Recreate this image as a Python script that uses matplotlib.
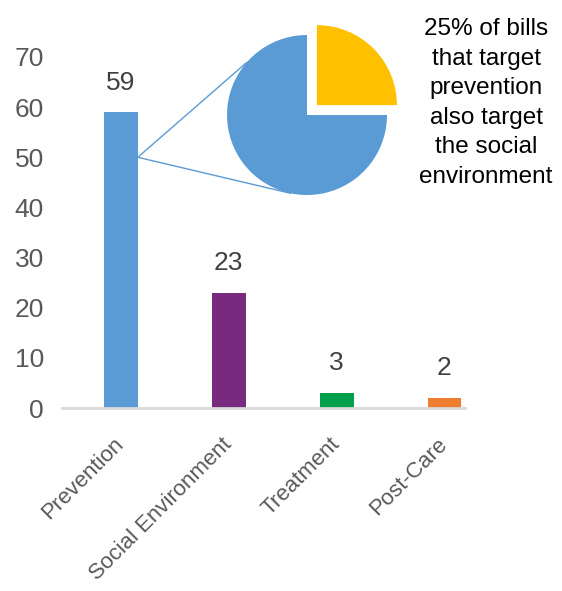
import matplotlib
matplotlib.use('Agg')
import matplotlib.pyplot as plt
import numpy as np
from matplotlib.patches import ConnectionPatch

categories = ['Prevention', 'Social Environment', 'Treatment', 'Post-Care']
counts = [59, 23, 3, 2]
bar_colors = ['#5B9BD5', '#782A7F', '#00A04B', '#ED7D31']
pie_values = [25, 75]
pie_colors = ['#FFC000', '#5B9BD5']
note = '25% of bills\nthat target\nprevention\nalso target\nthe social\nenvironment'

plt.rcParams['font.family'] = ['Liberation Sans', 'DejaVu Sans']

W, H = 562, 591
fig = plt.figure(figsize=(W / 100, H / 100), dpi=100)
ax = fig.add_axes([62 / W, 1 - 408 / H, (465 - 62) / W, (408 - 57) / H])

x = np.arange(len(categories))
bw = 0.315
ax.bar(x, counts, width=bw, color=bar_colors)
for xi, v in zip(x, counts):
    ax.text(xi, v + 3.5, str(v), ha='center', va='bottom', fontsize=19, color='#404040')

ax.set_xlim(-0.545, 3.19)
ax.set_ylim(0, 70)
ax.set_yticks(range(0, 71, 10))
ax.set_xticks(x)
ax.set_xticklabels(categories, rotation=45, ha='right', va='center',
                   rotation_mode='anchor', fontsize=16, color='#595959')
ax.tick_params(axis='y', length=0, labelsize=19, labelcolor='#595959', pad=13)
ax.tick_params(axis='x', length=0, pad=24)
for s in ['top', 'right', 'left']:
    ax.spines[s].set_visible(False)
ax.spines['bottom'].set_color('#D9D9D9')
ax.spines['bottom'].set_linewidth(2)

# pie inset
cx, cy = 307, 115
ax2 = fig.add_axes([(cx - 100) / W, 1 - (cy + 100) / H, 200 / W, 200 / H])
ax2.pie(pie_values, colors=pie_colors, startangle=90, counterclock=False,
        radius=0.8, explode=[0.14, 0], center=(0, 0))
ax2.set_xlim(-1, 1)
ax2.set_ylim(-1, 1)
ax2.set_aspect('equal')
ax2.axis('off')

for ang in [139, 258]:
    t = np.deg2rad(ang)
    con = ConnectionPatch(xyA=(bw / 2, 50), coordsA=ax.transData,
                          xyB=(0.8 * np.cos(t), 0.8 * np.sin(t)), coordsB=ax2.transData,
                          color='#5B9BD5', lw=1)
    fig.add_artist(con)

fig.text(486 / W, 1 - 103 / H, note, ha='center', va='center', fontsize=17.5,
         color='black', linespacing=1.45)

fig.savefig('out.png', dpi=100)
